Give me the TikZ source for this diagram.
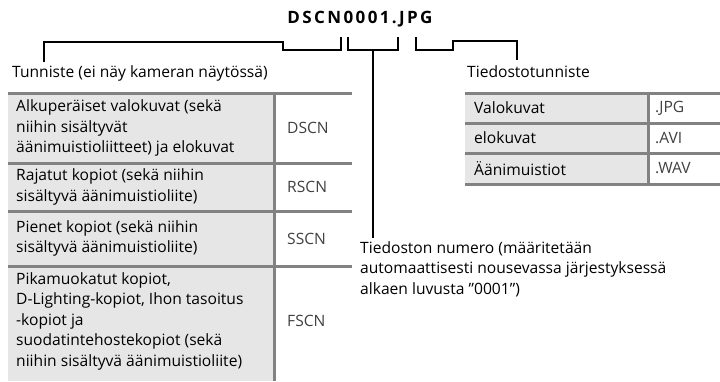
\documentclass[tikz,border=0pt]{standalone}
\usepackage{fontspec}
\setmainfont{Open Sans}
\definecolor{tgrey}{HTML}{828282}
\definecolor{cellfill}{HTML}{E6E6E6}
\begin{document}
\begin{tikzpicture}[x=1pt,y=-1pt,
  txt/.style={font=\fontsize{15.6}{20.5}\selectfont, inner sep=0pt, align=left},
  code/.style={font=\fontsize{15.6}{20.5}\selectfont, inner sep=0pt, anchor=west, text=black!75},
  rule/.style={draw=tgrey, line width=3pt},
  brk/.style={draw=black, line width=1.8pt}
]
\useasboundingbox (0,0) rectangle (720,381);

% title
\node[font=\fontsize{17}{18}\selectfont\bfseries\addfontfeature{LetterSpace=14}, inner sep=0pt] (title) at (360,19) {DSCN0001.JPG};

% brackets
\coordinate (lt) at (44,62);
\coordinate (lc) at (44,42);
\coordinate (b1a) at (283,42);
\coordinate (b1b) at (283,50);
\coordinate (b1c) at (341,50);
\coordinate (b1d) at (341,37);
\draw[brk] (lt) -- (lc) -- (b1a) -- (b1b) -- (b1c) -- (b1d);

\coordinate (b2a) at (348,37);
\coordinate (b2b) at (348,50);
\coordinate (b2c) at (398,50);
\coordinate (b2d) at (398,37);
\coordinate (b2m) at (373,50);
\coordinate (stemend) at (373,238);
\draw[brk] (b2a) -- (b2b) -- (b2c) -- (b2d);
\draw[brk] (b2m) -- (stemend);

\coordinate (b3a) at (416,37);
\coordinate (b3b) at (416,50);
\coordinate (b3c) at (453,50);
\coordinate (b3d) at (453,41);
\coordinate (rc) at (517,41);
\coordinate (rt) at (517,60);
\draw[brk] (b3a) -- (b3b) -- (b3c) -- (b3d) -- (rc) -- (rt);

% labels
\node[txt, anchor=base west] (idlbl) at (12,77) {Tunniste (ei näy kameran näytössä)};
\node[txt, anchor=base west] (extlbl) at (467,77) {Tiedostotunniste};
\node[txt, anchor=north west] (numlbl) at (360,241) {Tiedoston numero (määritetään\\automaattisesti nousevassa järjestyksessä\\alkaen luvusta ”0001”)};

% left table
\fill[cellfill] (8,93) rectangle (274,381);
\draw[rule] (8,93) -- (352,93);
\draw[rule] (8,163) -- (352,163);
\draw[rule] (8,211) -- (352,211);
\draw[rule] (8,266) -- (352,266);
\draw[rule] (274,93) -- (274,381);

\node[txt, anchor=west] (r1) at (16,128) {Alkuperäiset valokuvat (sekä\\niihin sisältyvät\\äänimuistioliitteet) ja elokuvat};
\node[txt, anchor=west] (r2) at (16,187) {Rajatut kopiot (sekä niihin\\sisältyvä äänimuistioliite)};
\node[txt, anchor=west] (r3) at (16,238.5) {Pienet kopiot (sekä niihin\\sisältyvä äänimuistioliite)};
\node[txt, anchor=west] (r4) at (16,321) {Pikamuokatut kopiot,\\D-Lighting-kopiot, Ihon tasoitus\\-kopiot ja\\suodatintehostekopiot (sekä\\niihin sisältyvä äänimuistioliite)};
\node[code] (c1) at (287,128) {DSCN};
\node[code] (c2) at (287,187) {RSCN};
\node[code] (c3) at (287,238.5) {SSCN};
\node[code] (c4) at (287,321) {FSCN};

% right table
\fill[cellfill] (465,93) rectangle (648,184);
\draw[rule] (465,93) -- (720,93);
\draw[rule] (465,123) -- (720,123);
\draw[rule] (465,153) -- (720,153);
\draw[rule] (465,184) -- (720,184);
\draw[rule] (648,93) -- (648,184);

\node[txt, anchor=west] (e1) at (474,108) {Valokuvat};
\node[txt, anchor=west] (e2) at (474,138) {elokuvat};
\node[txt, anchor=west] (e3) at (474,168.5) {Äänimuistiot};
\node[code] (x1) at (655,108) {.JPG};
\node[code] (x2) at (655,138) {.AVI};
\node[code] (x3) at (655,168.5) {.WAV};
\end{tikzpicture}
\end{document}
